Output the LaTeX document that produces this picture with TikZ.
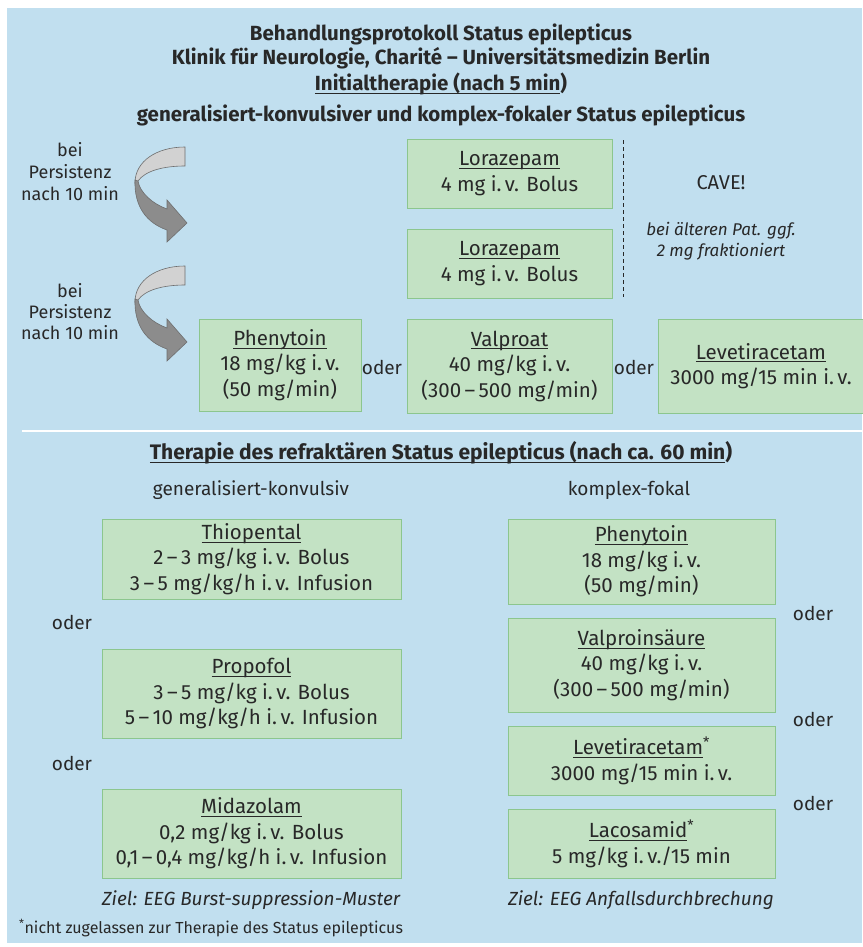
\documentclass[tikz,border=0pt]{standalone}
\usepackage{fontspec}
\setmainfont{Fira Sans}
\definecolor{bg}{RGB}{193,223,239}
\definecolor{boxfill}{RGB}{195,226,196}
\definecolor{boxline}{RGB}{140,198,142}
\definecolor{txt}{RGB}{40,40,40}
\definecolor{lightarr}{RGB}{210,210,210}
\definecolor{darkarr}{RGB}{140,140,140}
\definecolor{arrline}{RGB}{110,110,110}
\newcommand\ulx[1]{\setbox0=\hbox{#1}\rlap{\rule[-3pt]{\wd0}{0.8pt}}\box0}
\newcommand\curvarr[1]{%
  \begin{scope}[shift={#1}]
    \filldraw[fill=lightarr, draw=arrline, line width=0.6pt]
      (0,0) .. controls (-28,0) and (-50,14) .. (-50,36) -- (-47,34)
      .. controls (-40,24) and (-22,19) .. (0,19) -- cycle;
    \filldraw[fill=darkarr, draw=arrline, line width=0.6pt]
      (-50,33) .. controls (-51,60) and (-38,76) .. (-18,83) -- (-18,95) -- (2,76)
      -- (-18,53) -- (-18,62) .. controls (-32,57) and (-45,46) .. (-47,34) -- cycle;
  \end{scope}}
\tikzset{
  title/.style={font=\bfseries\fontsize{20.5}{24}\selectfont, text=txt, inner sep=0pt},
  box/.style={draw=boxline, fill=boxfill, line width=1pt, align=center, inner sep=0pt,
    font=\fontsize{20.5}{25.5}\selectfont, text=txt},
  plain/.style={font=\fontsize{19}{22}\selectfont, text=txt, inner sep=0pt, align=center},
  small/.style={font=\fontsize{17}{21}\selectfont, text=txt, inner sep=0pt, align=center},
  note/.style={font=\itshape\fontsize{17}{21}\selectfont, text=txt, inner sep=0pt, align=center},
}
\begin{document}
\begin{tikzpicture}[x=1pt,y=-1pt]
\useasboundingbox (0,0) rectangle (862,947);
\fill[bg] (7,8) rectangle (862,943);
% titles
\node[title] (t1) at (441,34) {Behandlungsprotokoll Status epilepticus};
\node[title] (t2) at (441,58) {Klinik für Neurologie, Charité – Universitätsmedizin Berlin};
\node[title] (t3) at (441,84) {\ulx{Initialtherapie (nach 5 min}\kern0pt)};
\node[title] (t4) at (441,115) {generalisiert-konvulsiver und komplex-fokaler Status epilepticus};
% arrows and labels
\node[plain, font=\fontsize{18}{22}\selectfont] (p1) at (70,172) {bei\\Persistenz\\nach 10 min};
\node[plain, font=\fontsize{18}{21}\selectfont] (p2) at (70,312) {bei\\Persistenz\\nach 10 min};
\curvarr{(185,147)}
\curvarr{(185,266)}
% initial boxes
\node[box, minimum width=205, minimum height=69] (lor1) at (509.5,173.5) {\ulx{Lorazepam}\\4 mg i.\,v. Bolus};
\node[box, minimum width=205, minimum height=69] (lor2) at (509.5,263.5) {\ulx{Lorazepam}\\4 mg i.\,v. Bolus};
\draw[txt, dashed, line width=0.8pt, dash pattern=on 4pt off 3pt] (623,140) -- (623,297);
\node[small, font=\fontsize{20}{22}\selectfont] (cave) at (721,183) {CAVE!};
\node[note] (cave2) at (721,241) {bei älteren Pat. ggf.\\2 mg fraktioniert};
\node[box, minimum width=162, minimum height=92] (phen1) at (280,365) {\ulx{Phenytoin}\\18 mg/kg i.\,v.\\(50 mg/min)};
\node[plain] (o1) at (382,367) {oder};
\node[box, minimum width=205, minimum height=94] (valp) at (509.5,366) {\ulx{Valproat}\\40 mg/kg i.\,v.\\(300\,–\,500 mg/min)};
\node[plain] (o2) at (634,367) {oder};
\node[box, minimum width=210, minimum height=94] (leve1) at (763,366) {};
\node[txt, align=center, inner sep=0pt, font=\fontsize{20.5}{25.5}\selectfont] (leve1t) at (761,366) {\ulx{Levetiracetam}\\3000 mg/15 min i.\,v.};
% divider
\draw[white, line width=1.5pt] (22,431) -- (862,431);
\node[title, font=\bfseries\fontsize{21}{24}\selectfont] (t5) at (441,453) {\ulx{Therapie des refraktären Status epilepticus (nach ca. 60 min}\kern0pt)};
\node[plain] (gk) at (251,490) {generalisiert-konvulsiv};
\node[plain] (kf) at (629,490) {komplex-fokal};
% left column
\node[box, minimum width=299, minimum height=80] (thio) at (251.5,559) {\ulx{Thiopental}\\2\,–\,3 mg/kg i.\,v. Bolus\\3\,–\,5 mg/kg/h i.\,v. Infusion};
\node[plain] (o3) at (72,622) {oder};
\node[box, minimum width=299, minimum height=89] (prop) at (251.5,693.5) {\ulx{Propofol}\\3\,–\,5 mg/kg i.\,v. Bolus\\5\,–\,10 mg/kg/h i.\,v. Infusion};
\node[plain] (o4) at (72,763) {oder};
\node[box, minimum width=299, minimum height=89] (mida) at (251.5,833.5) {\ulx{Midazolam}\\0,2 mg/kg i.\,v. Bolus\\0,1\,–\,0,4 mg/kg/h i.\,v. Infusion};
% right column
\node[box, minimum width=267, minimum height=85] (phen2) at (641.5,561.5) {\ulx{Phenytoin}\\18 mg/kg i.\,v.\\(50 mg/min)};
\node[plain] (o5) at (813,613) {oder};
\node[box, minimum width=267, minimum height=94] (valin) at (641.5,665) {\ulx{Valproinsäure}\\40 mg/kg i.\,v.\\(300\,–\,500 mg/min)};
\node[plain] (o6) at (813,719) {oder};
\node[box, minimum width=267, minimum height=69] (leve2) at (641.5,760.5) {\ulx{Levetiracetam}\textsuperscript{*}\\3000 mg/15 min i.\,v.};
\node[plain] (o7) at (813,803) {oder};
\node[box, minimum width=267, minimum height=69] (laco) at (641.5,843.5) {\ulx{Lacosamid}\textsuperscript{*}\\5 mg/kg i.\,v./15 min};
% goals and footnote
\node[note, font=\itshape\fontsize{19}{22}\selectfont] (z1) at (251,900) {Ziel: EEG Burst-suppression-Muster};
\node[note, font=\itshape\fontsize{19}{22}\selectfont] (z2) at (641,900) {Ziel: EEG Anfallsdurchbrechung};
\node[small, font=\fontsize{16}{18}\selectfont, anchor=west] (fn) at (19,928) {\textsuperscript{*}nicht zugelassen zur Therapie des Status epilepticus};
\end{tikzpicture}
\end{document}
